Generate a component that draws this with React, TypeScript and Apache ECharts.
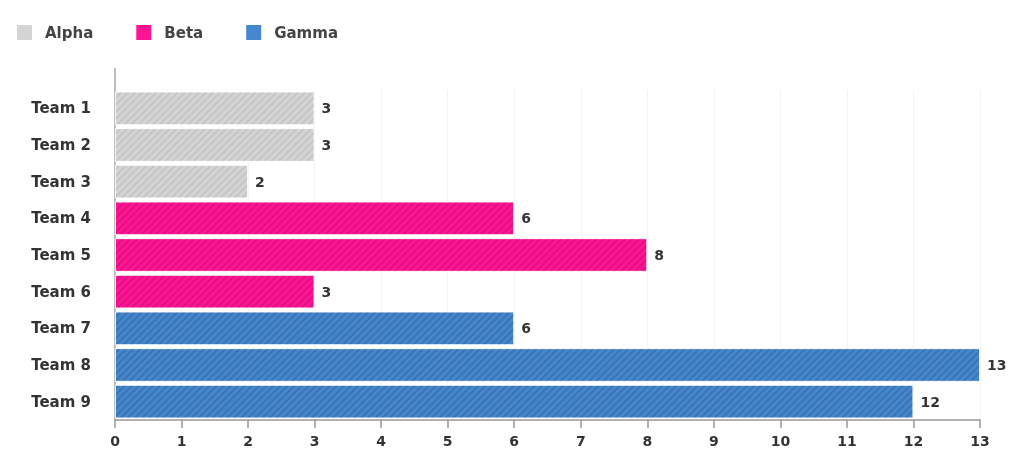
import React, { useEffect, useRef } from "react";
import * as echarts from "echarts";

const categories = ["Team 1", "Team 2", "Team 3", "Team 4", "Team 5", "Team 6", "Team 7", "Team 8", "Team 9"];
const alphaValues = [3, 3, 2, "-", "-", "-", "-", "-", "-"];
const betaValues = ["-", "-", "-", 6, 8, 3, "-", "-", "-"];
const gammaValues = ["-", "-", "-", "-", "-", "-", 6, 13, 12];
const seriesNames = ["Alpha", "Beta", "Gamma"];
const seriesColors = ["#d4d4d4", "#ff1493", "#4587ce"];

const FONT = "DejaVu Sans";

export default function App() {
  const ref = useRef<HTMLDivElement>(null);
  useEffect(() => {
    if (!ref.current) return;
    const chart = echarts.init(ref.current, undefined, { renderer: "svg" });
    const decal = (c: string) => ({
      symbol: "rect",
      symbolSize: 1,
      color: c,
      dashArrayX: [1, 0],
      dashArrayY: [2, 3],
      rotation: -Math.PI / 4,
    });
    const values = [alphaValues, betaValues, gammaValues];
    const decalColors = ["rgba(0,0,0,0.07)", "rgba(0,0,0,0.12)", "rgba(0,0,0,0.14)"];
    chart.setOption({
      animation: false,
      aria: { enabled: false },
      legend: {
        left: 12,
        top: 20,
        itemWidth: 15,
        itemHeight: 15,
        itemGap: 43,
        icon: "rect",
        itemStyle: { decal: "none", borderWidth: 0 },
        textStyle: { fontFamily: FONT, fontSize: 15, fontWeight: "bold", color: "#444", padding: [0, 0, 0, 8] },
        data: seriesNames,
      },
      grid: { left: 115, right: 30, top: 90, bottom: 41, containLabel: false },
      xAxis: {
        type: "value",
        min: 0,
        max: 13,
        interval: 1,
        axisLine: { show: true, lineStyle: { color: "#999", width: 1.5 } },
        axisTick: { show: true, length: 8, lineStyle: { color: "#999", width: 1.5 } },
        axisLabel: { fontFamily: FONT, fontSize: 14, fontWeight: "bold", color: "#333", margin: 14 },
        splitLine: { show: true, lineStyle: { color: "#f3f3f3", width: 1 } },
      },
      yAxis: {
        type: "category",
        data: categories,
        inverse: true,
        axisLine: { show: true, lineStyle: { color: "#aaa", width: 1.5 } },
        axisTick: { show: false },
        axisLabel: { fontFamily: FONT, fontSize: 15, fontWeight: "bold", color: "#333", margin: 24 },
      },
      graphic: [
        {
          type: "line",
          shape: { x1: 115, y1: 68, x2: 115, y2: 90 },
          style: { stroke: "#aaa", lineWidth: 1.5 },
        },
      ],
      series: seriesNames.map((name, i) => ({
        name,
        type: "bar",
        stack: "total",
        data: values[i],
        barCategoryGap: "8%",
        itemStyle: {
          color: seriesColors[i],
          borderColor: "rgba(255,255,255,0.6)",
          borderWidth: 1,
          decal: decal(decalColors[i]),
        },
        label: {
          show: true,
          position: "right",
          distance: 7,
          fontFamily: FONT,
          fontSize: 14,
          fontWeight: "bold",
          color: "#333",
        },
      })),
    });
    return () => chart.dispose();
  }, []);
  return <div ref={ref} style={{ position: "fixed", left: 0, top: 0, width: 1010, height: 461 }} />;
}
